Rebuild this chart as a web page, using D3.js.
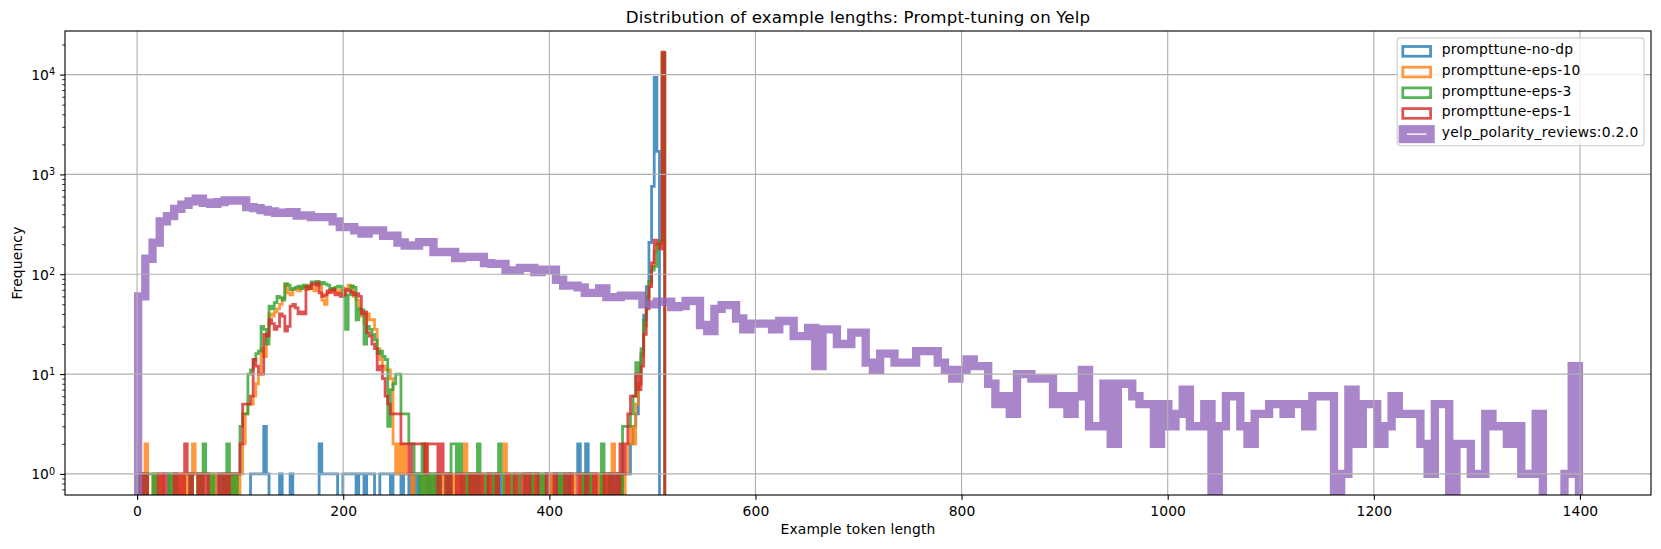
<!DOCTYPE html>
<html><head><meta charset="utf-8">
<script src="https://cdn.jsdelivr.net/npm/d3@7"></script>
<style>body{margin:0;background:#fff}svg{display:block}text{font-family:"DejaVu Sans",sans-serif}</style>
</head><body><svg id="chart" width="1661" height="549"></svg>
<script>
// ---------------- data ----------------
const seriesNames = ["prompttune-no-dp","prompttune-eps-10","prompttune-eps-3","prompttune-eps-1","yelp_polarity_reviews:0.2.0"];
const seriesColors = ["#1f77b4","#ff7f0e","#2ca02c","#d62728","#9467bd"];
// histogram bin ranges (200 bins each)
const thinBinRange = [0, 512];
const yelpBinRange = [1, 1399];
const countsNoDp = [
0,1,0,0,0,0,0,0,0,0, 1,1,0,0,0,0,0,0,0,0,
0,0,0,0,0,0,0,0,0,0, 1,0,0,0,0,0,0,0,0,0,
0,0,0,1,1,1,1,1,3,1, 0,0,0,0,1,0,0,0,1,0,
0,0,0,0,0,0,0,0,0,2, 1,1,1,1,1,1,0,0,1,1,
1,1,1,0,1,1,0,1,1,1, 0,0,1,1,1,1,0,1,1,1,
0,1,1,0,1,0,1,0,0,0, 1,0,0,1,0,0,0,0,1,0,
0,0,0,0,1,0,0,0,0,0, 0,0,0,1,1,0,0,1,0,0,
0,0,0,0,0,0,0,0,1,0, 1,1,0,0,0,1,1,0,1,0,
1,0,0,0,1,1,1,2,1,0, 2,1,0,1,0,1,0,1,1,0,
1,0,1,0,1,1,1,2,3,4, 8,16,39,75,208,757,9400,1700,0,0];
const countsEps10 = [
0,1,0,2,0,0,1,0,0,1, 0,0,0,1,0,1,0,1,0,1,
0,2,1,0,1,0,0,1,0,1, 0,0,0,1,0,1,0,1,0,1,
2,4,5,5,6,8,10,18,15,25, 40,38,42,45,50,58,80,65,62,70,
72,68,74,75,70,78,72,68,80,76, 55,50,65,70,72,68,66,70,64,72,
78,76,60,55,45,38,32,40,35,35, 28,18,14,12,11,11,9,2,1,2,
1,2,1,1,0,1,1,1,0,2, 0,1,0,1,0,0,1,0,1,0,
1,0,1,0,2,0,1,0,1,0, 0,1,0,0,1,0,1,0,0,2,
0,1,0,0,1,0,0,1,0,0, 1,0,0,1,0,0,0,1,0,0,
1,0,1,0,0,1,0,0,1,0, 0,0,1,0,1,0,1,0,1,0,
2,1,0,1,0,1,2,3,2,5, 8,15,30,50,80,120,170,190,200,16000];
const countsEps3 = [
1,0,1,0,1,1,0,1,0,0, 0,0,1,0,1,0,0,0,0,0,
1,0,0,1,0,2,1,0,1,0, 0,0,1,0,2,0,1,0,1,3,
4,4,10,11,14,16,17,30,28,20, 48,45,52,60,58,55,80,78,70,72,
74,76,72,78,75,73,84,82,85,80, 83,80,78,72,70,74,76,75,60,28,
62,76,74,35,45,44,20,30,28,25, 22,16,17,15,14,3,7,8,10,10,
4,4,4,2,2,1,1,0,2,0, 1,0,1,0,1,0,0,1,0,2,
2,1,2,0,0,1,0,1,0,2, 0,0,1,0,0,1,0,2,1,0,
0,0,1,0,0,1,1,0,0,1, 0,0,1,0,1,0,0,0,0,1,
0,1,0,1,0,0,0,0,0,1, 0,1,0,0,0,0,2,0,0,1,
0,0,1,0,3,3,3,4,6,13, 10,18,35,60,85,110,120,200,215,16500];
const countsEps1 = [
0,1,0,1,0,0,0,0,1,0, 1,0,0,0,1,0,1,0,2,1,
0,1,1,0,1,0,1,0,0,0, 0,1,0,1,0,1,1,1,1,2,
5,5,5,6,14,12,10,10,25,24, 35,32,28,30,40,38,27,30,48,50,
46,40,42,40,75,72,80,78,82,65, 60,62,68,66,70,62,64,60,62,70,
68,66,62,64,60,40,42,26,24,20, 18,11,12,9,6,5,4,4,4,4,
2,2,2,1,2,2,2,2,2,1, 2,2,2,2,0,2,1,0,1,0,
0,1,0,1,0,0,1,0,1,0, 1,0,0,1,0,0,1,0,0,0,
1,0,0,1,0,0,1,0,1,0, 0,1,0,0,0,1,0,0,1,0,
0,0,1,0,1,0,0,1,0,0, 1,0,0,1,0,0,0,1,0,1,
0,1,0,2,1,2,4,6,6,10, 7,12,25,45,75,130,220,200,180,16800];
const countsYelp = [
60,143,207,338,382,452,497,536,570,520,
508,528,548,548,548,470,459,440,425,413,
413,419,388,388,374,374,374,338,297,297,
275,255,275,275,243,243,208,194,194,210,
210,167,167,167,145,149,149,149,129,127,
127,109,109,116,116,105,111,111,88,77,
77,74,65,65,72,59,59,61,61,61,
50,50,53,53,47,48,54,54,31,27,
45,49,49,36,28,32,32,32,28,34,
34,24,24,29,12,28,28,20,20,26,
26,13,11,16,16,13,13,13,17,17,
17,13,11,9,11,14,12,12,8,5,
6,4,10,10,9,9,9,5,6,4,
6,11,3,3,8,2,8,8,6,5,
5,2,5,3,4,7,3,3,5,0,
3,6,6,3,2,4,4,5,5,4,
5,5,3,6,6,6,0,1,7,2,
5,5,2,3,6,4,4,4,2,1,
5,5,0,2,2,1,1,4,3,3,
2,3,1,1,4,0,0,0,1,12];
const xTicks = [0,200,400,600,800,1000,1200,1400];
const yTicks = [1,10,100,1000,10000];
const yTickExponents = ["0","1","2","3","4"];
const titleText = "Distribution of example lengths: Prompt-tuning on Yelp";
const xLabelText = "Example token length";
const yLabelText = "Frequency";

// ---------------- layout ----------------
const PT = 100/72;
const plot = {left:65, top:31, right:1651, bottom:495};
const FS = 10*PT;

const series = [
  {name:seriesNames[0], color:seriesColors[0], counts:countsNoDp, range:thinBinRange, lw:2*PT},
  {name:seriesNames[1], color:seriesColors[1], counts:countsEps10, range:thinBinRange, lw:2*PT},
  {name:seriesNames[2], color:seriesColors[2], counts:countsEps3, range:thinBinRange, lw:2*PT},
  {name:seriesNames[3], color:seriesColors[3], counts:countsEps1, range:thinBinRange, lw:2*PT},
  {name:seriesNames[4], color:seriesColors[4], counts:countsYelp, range:yelpBinRange, lw:6*PT}
];

// autoscale like matplotlib (5% margins, log on y)
const xmin = d3.min(series, s=>s.range[0]), xmax = d3.max(series, s=>s.range[1]);
const xpad = 0.05*(xmax-xmin);
const ymaxLog = Math.log10(d3.max(series, s=>d3.max(s.counts)));
const yminLog = 0;
const ypad = 0.05*(ymaxLog-yminLog);

const x = d3.scaleLinear().domain([xmin-xpad, xmax+xpad]).range([plot.left, plot.right]);
const y = d3.scaleLog().domain([Math.pow(10,yminLog-ypad), Math.pow(10,ymaxLog+ypad)]).range([plot.bottom, plot.top]);

const svg = d3.select("#chart");
svg.append("rect").attr("width",1661).attr("height",549).attr("fill","#fff");

svg.append("defs").append("clipPath").attr("id","clip")
  .append("rect").attr("x",plot.left).attr("y",plot.top)
  .attr("width",plot.right-plot.left).attr("height",plot.bottom-plot.top);

// histograms (step)
const below = plot.bottom + 80;
function stepPoints(counts, range){
  const n = counts.length, w = (range[1]-range[0])/n;
  const pts = [[range[0],0]];
  counts.forEach((c,i)=>{ pts.push([range[0]+i*w,c]); pts.push([range[0]+(i+1)*w,c]); });
  pts.push([range[1],0]);
  return pts;
}
const line = d3.line().x(d=>x(d[0])).y(d=>d[1]>0 ? y(d[1]) : below);
const gData = svg.append("g").attr("clip-path","url(#clip)");
series.forEach(s=>{
  gData.append("path").attr("d", line(stepPoints(s.counts, s.range)))
    .attr("fill","none").attr("stroke",s.color).attr("stroke-opacity",0.8)
    .attr("stroke-width",s.lw).attr("stroke-linejoin","miter").attr("stroke-linecap","butt");
});

// grid
const gGrid = svg.append("g").attr("stroke","#b0b0b0").attr("stroke-width",0.8*PT);
xTicks.forEach(t=>gGrid.append("line").attr("x1",x(t)).attr("x2",x(t)).attr("y1",plot.top).attr("y2",plot.bottom));
yTicks.forEach(t=>gGrid.append("line").attr("y1",y(t)).attr("y2",y(t)).attr("x1",plot.left).attr("x2",plot.right));

// x axis
const gx = svg.append("g").attr("transform",`translate(0,${plot.bottom})`)
  .call(d3.axisBottom(x).tickValues(xTicks).tickSize(3.5*PT).tickPadding(3.5*PT).tickFormat(d3.format("d")));
gx.select(".domain").remove();
gx.selectAll(".tick line").attr("stroke","#000").attr("stroke-width",0.8*PT);
gx.selectAll(".tick text").attr("font-family","DejaVu Sans").attr("font-size",FS).attr("fill","#000")
  .attr("letter-spacing",0.1).attr("dy",null).attr("y",21);

// y axis (major)
const gy = svg.append("g").attr("transform",`translate(${plot.left},0)`)
  .call(d3.axisLeft(y).tickValues(yTicks).tickSize(3.5*PT).tickPadding(3.5*PT).tickFormat(""));
gy.select(".domain").remove();
gy.selectAll(".tick line").attr("stroke","#000").attr("stroke-width",0.8*PT);
gy.selectAll(".tick text").each(function(d,i){
  const t = d3.select(this).attr("font-family","DejaVu Sans").attr("font-size",FS).attr("fill","#000")
    .attr("dy",null).attr("y",5.06).attr("x",-9.9).attr("text-anchor","end");
  t.text(null);
  t.append("tspan").text("10");
  t.append("tspan").attr("font-size",FS*0.7).attr("dy",-4.7).text(yTickExponents[i]);
});
// y axis (minor)
const [d0,d1] = y.domain();
const minorTicks = [];
for(let k=Math.floor(Math.log10(d0)); k<=Math.ceil(Math.log10(d1)); k++)
  for(let mm=2; mm<=9; mm++){ const v=mm*Math.pow(10,k); if(v>=d0 && v<=d1) minorTicks.push(v); }
const gyMinor = svg.append("g").attr("transform",`translate(${plot.left},0)`)
  .call(d3.axisLeft(y).tickValues(minorTicks).tickSize(2*PT).tickFormat(""));
gyMinor.select(".domain").remove();
gyMinor.selectAll(".tick line").attr("stroke","#000").attr("stroke-width",0.6*PT);

// spines
svg.append("rect").attr("x",plot.left).attr("y",plot.top).attr("width",plot.right-plot.left)
  .attr("height",plot.bottom-plot.top).attr("fill","none").attr("stroke","#000").attr("stroke-width",0.8*PT);

// title & labels
svg.append("text").attr("x",(plot.left+plot.right)/2).attr("y",22.7).attr("text-anchor","middle")
  .attr("font-size",12*PT).attr("letter-spacing",0.13).attr("fill","#000").text(titleText);
svg.append("text").attr("x",(plot.left+plot.right)/2).attr("y",534).attr("text-anchor","middle")
  .attr("font-size",FS).attr("letter-spacing",0.15).attr("fill","#000").text(xLabelText);
svg.append("text").attr("transform",`translate(21.8,${(plot.top+plot.bottom)/2}) rotate(-90)`)
  .attr("text-anchor","middle").attr("font-size",FS).attr("letter-spacing",0.15).attr("fill","#000").text(yLabelText);

// legend
const lg = svg.append("g");
const pad = 0.4*FS, hl = 2*FS, hh = 0.7*FS, htp = 0.8*FS, rowH = 13.75, spc = 0.5*FS;
const LS = 0.28;
const tmp = lg.append("g");
let maxW = 0;
series.forEach(s=>{ const t = tmp.append("text").attr("font-size",FS).attr("letter-spacing",LS).text(s.name); maxW = Math.max(maxW, t.node().getComputedTextLength()); });
tmp.remove();
const lw = pad + hl + htp + maxW + pad;
const lh = pad*2 + series.length*rowH + (series.length-1)*spc;
const lx = plot.right - 0.5*FS - lw, ly = plot.top + 0.5*FS;
lg.append("rect").attr("x",lx).attr("y",ly).attr("width",lw).attr("height",lh).attr("rx",0.2*FS)
  .attr("fill","#fff").attr("fill-opacity",0.8).attr("stroke","#cccccc").attr("stroke-opacity",0.8).attr("stroke-width",1*PT);
series.forEach((s,i)=>{
  const rt = ly + pad + i*(rowH+spc);
  lg.append("rect").attr("x",lx+pad).attr("y",rt+3).attr("width",hl).attr("height",hh)
    .attr("fill","none").attr("stroke",s.color).attr("stroke-opacity",0.8).attr("stroke-width",s.lw);
  lg.append("text").attr("x",lx+pad+hl+htp).attr("y",rt+10.8).attr("font-size",FS).attr("letter-spacing",LS)
    .attr("fill","#000").text(s.name);
});
</script></body></html>
